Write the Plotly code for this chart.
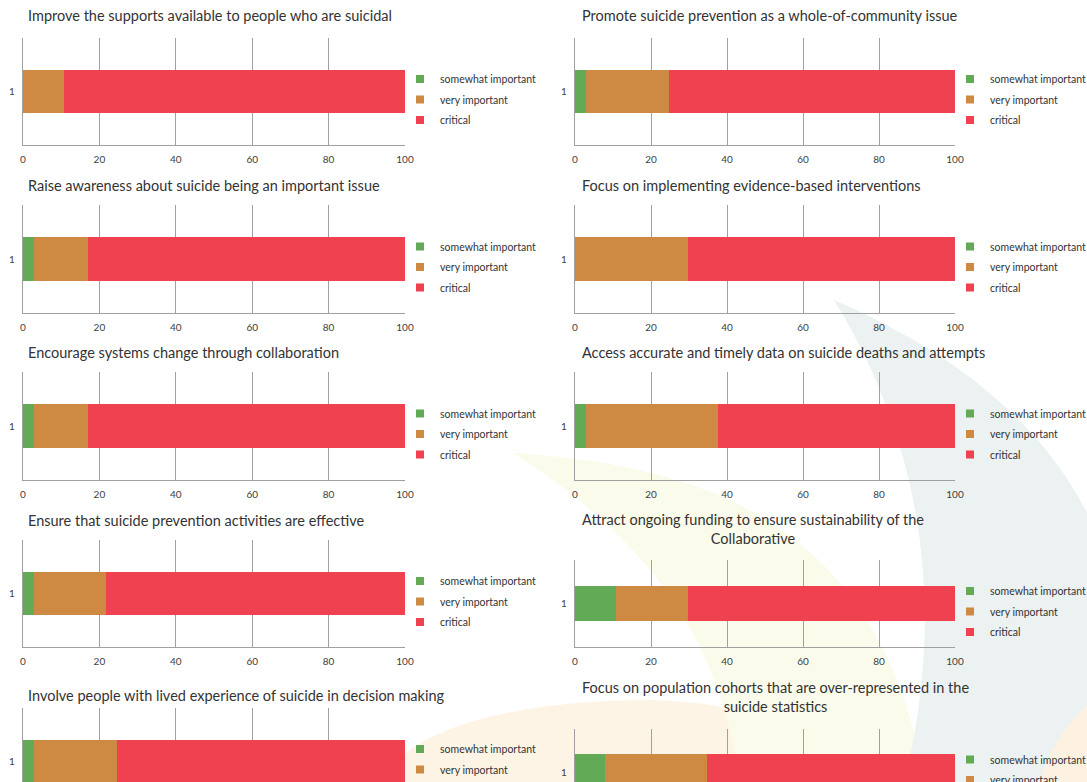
import plotly.graph_objects as go

W, H = 1087, 782

# ---------------- data ----------------
titles = [
    "Improve the supports available to people who are suicidal",
    "Promote suicide prevention as a whole-of-community issue",
    "Raise awareness about suicide being an important issue",
    "Focus on implementing evidence-based interventions",
    "Encourage systems change through collaboration",
    "Access accurate and timely data on suicide deaths and attempts",
    "Ensure that suicide prevention activities are effective",
    "Attract ongoing funding to ensure sustainability of the<br>Collaborative",
    "Involve people with lived experience of suicide in decision making",
    "Focus on population cohorts that are over-represented in the<br>suicide statistics",
]
categories = ["1"]
levels = ["somewhat important", "very important", "critical"]
somewhat_important = [0.0, 2.8, 2.8, 0.0, 2.8, 2.8, 2.8, 10.8, 2.8, 7.9]
very_important = [10.8, 21.9, 14.1, 29.8, 14.1, 34.9, 18.9, 19.0, 21.9, 26.8]
critical = [89.2, 75.3, 83.1, 70.2, 83.1, 62.3, 78.3, 70.2, 75.3, 65.3]
x_ticks = [0, 20, 40, 60, 80, 100]

# ---------------- style ----------------
colors = ["#62aa55", "#ce8a43", "#ef4150"]
grid_col = "#a0a0a0"
txt_col = "#404040"
FONT = "Lato, 'Open Sans', sans-serif"

col_x = [(23, 405), (575, 955)]
boxes = [(38, 145), (38, 145), (205, 313), (205, 313), (372, 480), (372, 480),
         (540, 647), (560, 647), (708, 815), (729, 815)]
title_y = [15, 15, 185, 185, 352, 353, 520, 529, 695, 697]
title_x = [26, 580]
legend_x = [400, 950]

series = [somewhat_important, very_important, critical]

fig = go.Figure()
layout = dict(
    width=W, height=H,
    margin=dict(l=0, r=0, t=0, b=0, autoexpand=False),
    paper_bgcolor="white", plot_bgcolor="rgba(0,0,0,0)",
    barmode="stack", font=dict(family=FONT, color=txt_col),
    annotations=[], shapes=[],
)


def py(v):
    return 1 - v / H


for i in range(len(titles)):
    col = i % 2
    top, bot = boxes[i]
    x0, x1 = col_x[col]
    vis_bot = min(bot, H)
    frac_lo = 0.5 - (vis_bot - top) / (bot - top)
    clipped = bot > H
    sfx = "" if i == 0 else str(i + 1)
    xa, ya = "x" + sfx, "y" + sfx
    leg = "legend" + sfx

    for k, lvl in enumerate(levels):
        fig.add_trace(go.Bar(
            x=[series[k][i]], y=categories, orientation="h", name=lvl,
            marker=dict(color=colors[k], line=dict(width=0)), width=0.41,
            xaxis=xa, yaxis=ya, showlegend=False, hoverinfo="x+name",
        ))
    for k, lvl in enumerate(levels):
        fig.add_trace(go.Scatter(
            x=[None], y=[None], mode="markers", name=lvl,
            marker=dict(symbol="square", size=8, color=colors[k]),
            xaxis=xa, yaxis=ya, legend=leg, legendgroup=f"g{i}_{k}",
            showlegend=True,
        ))

    layout["xaxis" + sfx] = dict(
        domain=[x0 / W, x1 / W], anchor=ya, range=[0, 100],
        tickvals=x_ticks, showgrid=True, gridcolor=grid_col, gridwidth=1.4,
        showline=not clipped, linecolor=grid_col, linewidth=1.4,
        zeroline=False, ticks="", showticklabels=not clipped,
        tickfont=dict(size=10, color=txt_col, family=FONT),
        ticklabelstandoff=5, fixedrange=True,
    )
    layout["yaxis" + sfx] = dict(
        domain=[py(vis_bot), py(top)], anchor=xa, type="category",
        range=[frac_lo, 0.5], showgrid=False, showline=True,
        linecolor=grid_col, linewidth=1.4, zeroline=False, ticks="",
        tickfont=dict(size=10, color=txt_col, family=FONT),
        ticklabelstandoff=5, fixedrange=True,
    )
    layout[leg] = dict(
        x=legend_x[col] / W, xanchor="left",
        y=py((top + bot) / 2 + 8), yanchor="middle",
        bgcolor="rgba(0,0,0,0)", font=dict(size=10.5, color="#333333", family=FONT),
        traceorder="grouped", tracegroupgap=1.5, itemclick=False,
    )
    layout["annotations"].append(dict(
        text=titles[i], xref="paper", yref="paper",
        x=title_x[col] / W, y=py(title_y[i]), xanchor="left", yanchor="middle",
        align="center", showarrow=False,
        font=dict(size=14.5, color="#333333", family=FONT),
    ))


def path(pts):
    out = []
    for cmd, ps in pts:
        out.append(cmd + " ".join(f"{x / W:.4f},{py(y):.4f}" for x, y in ps))
    return " ".join(out) + " Z"


bg_shapes = [
    ("rgb(254,244,229)", [("M", [(383, 782)]), ("C", [(400, 735), (500, 700), (650, 700)]),
                          ("C", [(720, 702), (770, 715), (800, 735)]), ("L", [(800, 782)])]),
    ("rgb(250,251,234)", [("M", [(513, 453)]), ("C", [(700, 465), (880, 520), (925, 782)]),
                          ("L", [(740, 782)]), ("C", [(720, 640), (650, 540), (513, 453)])]),
    ("rgb(236,241,242)", [("M", [(834, 300)]), ("C", [(950, 350), (1040, 420), (1087, 513)]),
                          ("L", [(1087, 782)]), ("L", [(904, 782)]),
                          ("C", [(935, 660), (945, 480), (834, 300)])]),
    ("rgb(253,241,225)", [("M", [(1087, 705)]), ("C", [(1060, 730), (1045, 760), (1040, 782)]),
                          ("L", [(1087, 782)])]),
]
for colr, pts in bg_shapes:
    layout["shapes"].append(dict(
        type="path", xref="paper", yref="paper", path=path(pts),
        fillcolor=colr, line=dict(width=0), layer="below",
    ))

fig.update_layout(**layout)
fig.write_html("out.html")
